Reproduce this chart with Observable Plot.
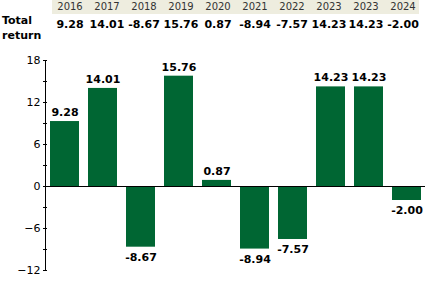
<!DOCTYPE html>
<html>
<head>
<meta charset="utf-8">
<script src="https://cdn.jsdelivr.net/npm/d3@7"></script>
<script src="https://cdn.jsdelivr.net/npm/@observablehq/plot@0.6"></script>
<style>
  body { margin: 0; background: #fff; font-family: "DejaVu Sans", Verdana, sans-serif; }
  #wrap { position: relative; width: 425px; height: 288px; overflow: hidden; }
  #band { position: absolute; left: 52px; top: 0; width: 367px; height: 14px; background: #eeeddf; }
  .yr { position: absolute; top: 0; height: 14px; line-height: 14px; font-size: 10px; color: #333; text-align: center; width: 40px; }
  .val { position: absolute; top: 18px; line-height: 14px; font-size: 11px; font-weight: bold; color: #000; text-align: center; width: 40px; white-space: nowrap; }
  #rowlabel { position: absolute; left: 2px; top: 13px; font-size: 11px; font-weight: bold; line-height: 15px; color: #000; }
  #chart { position: absolute; left: 0; top: 45px; }
</style>
</head>
<body>
<div id="wrap">
  <div id="band"></div>
  <div id="rowlabel">Total<br>return</div>
  <div id="chart"></div>
</div>
<script>
const years = ["2016", "2017", "2018", "2019", "2020", "2021", "2022", "2023", "2023", "2024"];
const returns = [9.28, 14.01, -8.67, 15.76, 0.87, -8.94, -7.57, 14.23, 14.23, -2.00];
const yTicksMajor = [-12, -6, 0, 6, 12, 18];
const yTicksAll = [-12, -9, -6, -3, 0, 3, 6, 9, 12, 15, 18];

const data = years.map((y, i) => ({i, year: y, v: returns[i]}));

// header table
const wrap = document.getElementById("wrap");
data.forEach((d, i) => {
  const cx = 70 + 37 * i;
  const a = document.createElement("div");
  a.className = "yr"; a.style.left = (cx - 20) + "px"; a.textContent = d.year;
  wrap.appendChild(a);
  const b = document.createElement("div");
  b.className = "val"; b.style.left = (cx - 20) + "px"; b.textContent = d.v.toFixed(2);
  wrap.appendChild(b);
});

const green = "#006633";
const chart = Plot.plot({
  width: 425,
  height: 243,
  marginTop: 15,
  marginBottom: 18,
  marginLeft: 45,
  marginRight: 0,
  style: {fontFamily: "DejaVu Sans, Verdana, sans-serif", fontSize: "11px", background: "#fff", color: "#000"},
  x: {type: "band", domain: data.map(d => d.i), paddingInner: 0.237, paddingOuter: 0.118, axis: null},
  y: {domain: [-12, 18], axis: null},
  marks: [
    Plot.barY(data, {x: "i", y: "v", fill: green}),
    Plot.ruleY([0], {stroke: "#000", strokeWidth: 1}),
    Plot.frame({anchor: "left", stroke: "#000"}),
    Plot.axisY(yTicksAll, {tickSize: 4, dx: 2, tickFormat: () => "", label: null, stroke: "#000"}),
    Plot.axisY(yTicksMajor, {tickSize: 0, tickPadding: 5, label: null, fill: "#000", fontSize: 11}),
    Plot.text(data.filter(d => d.v >= 0), {x: "i", y: "v", text: d => d.v.toFixed(2), dy: -9, fontWeight: "bold", fontSize: 11, fill: "#000"}),
    Plot.text(data.filter(d => d.v < 0), {x: "i", y: "v", text: d => d.v.toFixed(2), dy: 10, fontWeight: "bold", fontSize: 11, fill: "#000"})
  ]
});
document.getElementById("chart").appendChild(chart);
</script>
</body>
</html>
